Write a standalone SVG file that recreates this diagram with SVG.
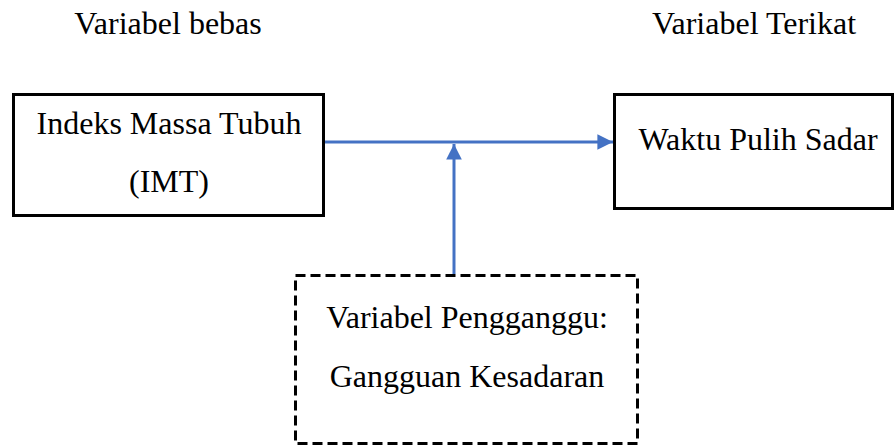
<svg xmlns="http://www.w3.org/2000/svg" width="896" height="448" viewBox="0 0 896 448">
<defs>
<style>
.t{font-family:'Liberation Serif','Times New Roman',serif;font-size:32px;fill:#000;text-anchor:middle}
.box{fill:#fff;stroke:#000;stroke-width:3}
.dash{stroke-dasharray:10 5}
.conn{stroke:#4472C4;stroke-width:3;fill:none}
</style>
<marker id="ah" viewBox="0 0 10 10" refX="10" refY="5" markerWidth="5.2" markerHeight="5.2" markerUnits="strokeWidth" orient="auto">
<path d="M0,0L10,5L0,10z" fill="#4472C4"/>
</marker>
</defs>
<text class="t" x="168" y="34">Variabel bebas</text>
<text class="t" x="754" y="34">Variabel Terikat</text>
<g id="node-imt">
<rect class="box" x="13.5" y="94.5" width="310" height="121"/>
<text class="t" x="169" y="134">Indeks Massa Tubuh</text>
<text class="t" x="169" y="192">(IMT)</text>
</g>
<g id="node-waktu">
<rect class="box" x="614.5" y="94.5" width="278" height="114"/>
<text class="t" x="758" y="150">Waktu Pulih Sadar</text>
</g>
<g id="node-pengganggu">
<rect class="box dash" x="295.5" y="275.5" width="342" height="168"/>
<text class="t" x="467" y="328">Variabel Pengganggu:</text>
<text class="t" x="467" y="387">Gangguan Kesadaran</text>
</g>
<g id="connectors">
<line class="conn" x1="325" y1="142" x2="613" y2="142" marker-end="url(#ah)"/>
<line class="conn" x1="454" y1="274" x2="454" y2="144" marker-end="url(#ah)"/>
</g>
</svg>
